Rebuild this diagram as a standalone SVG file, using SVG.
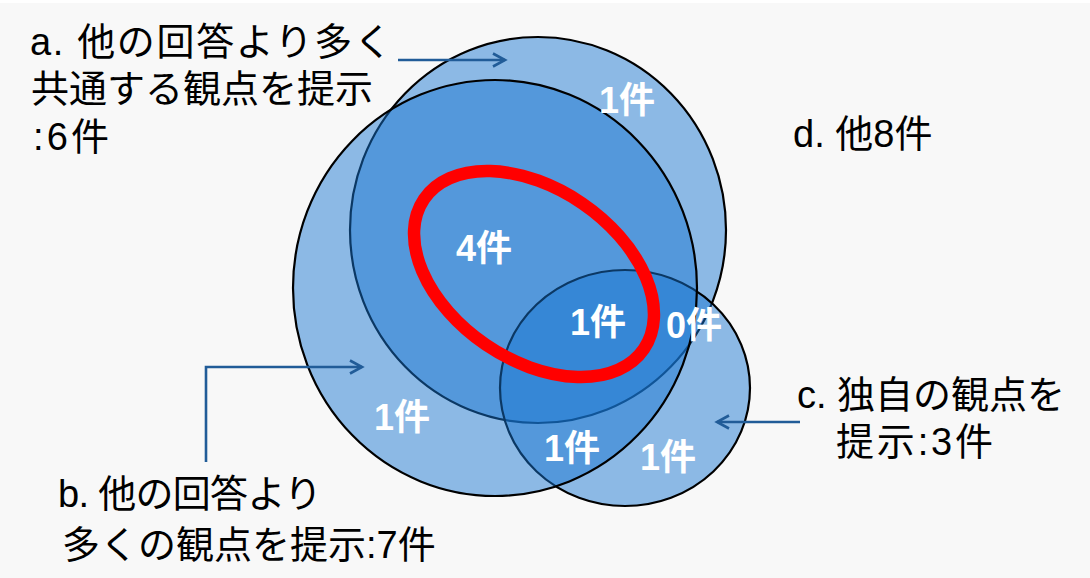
<svg xmlns="http://www.w3.org/2000/svg" width="1090" height="578" viewBox="0 0 1090 578">
<defs>
<style>
.set{fill:#1876D2;fill-opacity:0.48;stroke:#000;stroke-width:2.2}
.core{fill:none;stroke:#FF0000;stroke-width:12.5}
.lbl{font-family:"Liberation Sans","Noto Sans CJK JP",sans-serif;font-size:38px;fill:#000}
.cnt{font-family:"Liberation Sans","Noto Sans CJK JP",sans-serif;font-size:36px;font-weight:bold;fill:#fff}
.conn{fill:none;stroke:#215C98;stroke-width:2.6}
</style>
<marker id="arr" markerUnits="userSpaceOnUse" viewBox="-14 -8 16 16" markerWidth="16" markerHeight="16" refX="0" refY="0" orient="auto" overflow="visible">
<path d="M-12,-6.5 L0,0 L-12,6.5" fill="none" stroke="#215C98" stroke-width="2.6"/>
</marker>
</defs>
<rect x="0" y="0" width="1090" height="578" fill="#F8F8F8"/>
<rect x="0" y="0" width="1090" height="3" fill="#FFFFFF"/>

<g id="set-a"><ellipse class="set" cx="538" cy="230" rx="188" ry="193"/></g>
<g id="set-c"><ellipse class="set" cx="625" cy="388" rx="125" ry="118"/></g>
<g id="set-b"><ellipse class="set" cx="495" cy="288" rx="202" ry="208"/></g>
<g id="core"><ellipse class="core" cx="0" cy="0" rx="133" ry="85.5" transform="translate(534 274) rotate(34.3)"/></g>

<g id="counts">
<text class="cnt" x="599" y="113">1件</text>
<text class="cnt" x="456" y="261">4件</text>
<text class="cnt" x="570" y="335">1件</text>
<text class="cnt" x="666" y="338">0件</text>
<text class="cnt" x="374" y="430">1件</text>
<text class="cnt" x="544" y="461">1件</text>
<text class="cnt" x="640" y="470">1件</text>
</g>

<g id="label-a">
<text class="lbl" x="30" y="55" textLength="362" lengthAdjust="spacing">a. 他の回答より多く</text>
<text class="lbl" x="31" y="102">共通する観点を提示</text>
<text class="lbl" x="33" y="150" textLength="76" lengthAdjust="spacing">:6件</text>
</g>
<g id="label-b">
<text class="lbl" x="58" y="507" textLength="264" lengthAdjust="spacing">b. 他の回答より</text>
<text class="lbl" x="62" y="558">多くの観点を提示:7件</text>
</g>
<g id="label-c">
<text class="lbl" x="797" y="408">c. 独自の観点を</text>
<text class="lbl" x="836" y="455" textLength="157" lengthAdjust="spacing">提示:3件</text>
</g>
<g id="label-d">
<text class="lbl" x="793" y="147">d. 他8件</text>
</g>

<g id="connectors">
<path class="conn" d="M398,60 L505,60" marker-end="url(#arr)"/>
<path class="conn" d="M206,462 L206,367 L362,367" marker-end="url(#arr)"/>
<path class="conn" d="M800,422 L717,422" marker-end="url(#arr)"/>
</g>
</svg>
